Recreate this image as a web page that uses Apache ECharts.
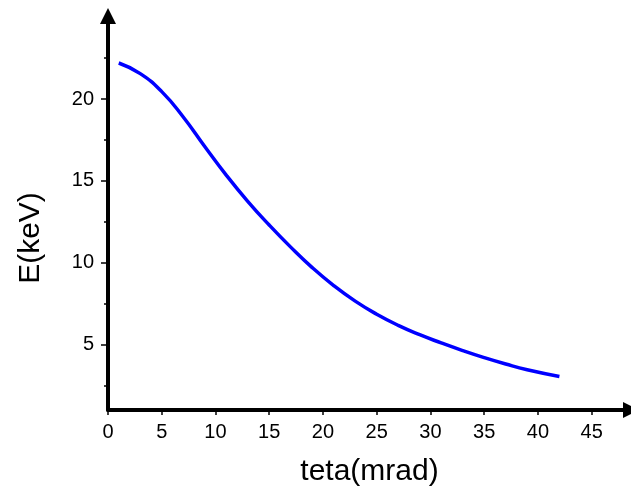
<!DOCTYPE html>
<html>
<head>
<meta charset="utf-8">
<script src="https://cdn.jsdelivr.net/npm/echarts@6/dist/echarts.min.js"></script>
<style>
  html, body { margin: 0; padding: 0; background: #fff; }
  #main { width: 631px; height: 492px; }
</style>
</head>
<body>
<div id="main"></div>
<script>
  // values
  var teta = [1, 3, 5, 7, 9, 11, 13, 15, 17, 19, 21, 23, 25, 27, 29, 31, 33, 35, 37, 39, 42];
  var energy = [22.2, 21.55, 20.45, 18.9, 17.1, 15.35, 13.75, 12.3, 10.95, 9.7, 8.6, 7.65, 6.85, 6.17, 5.6, 5.1, 4.63, 4.2, 3.81, 3.46, 3.05];

  var xTicks = [0, 5, 10, 15, 20, 25, 30, 35, 40, 45];
  var yTicks = [5, 10, 15, 20];
  var yMinorTicks = [2.5, 7.5, 12.5, 17.5, 22.5];

  var points = teta.map(function (t, i) { return [t, energy[i]]; });

  var myChart = echarts.init(document.getElementById('main'));
  var font = 'Liberation Sans, Arial, sans-serif';

  myChart.setOption({
    animation: false,
    grid: { left: 108, right: 0, top: 16, bottom: 78 },
    xAxis: {
      type: 'value',
      min: 0,
      max: 48.66,
      name: 'teta(mrad)',
      nameLocation: 'middle',
      nameGap: 47,
      nameTextStyle: { fontFamily: font, fontSize: 30, color: '#000' },
      splitLine: { show: false },
      axisLine: {
        lineStyle: { color: '#000', width: 4 },
        symbol: ['none', 'triangle'],
        symbolSize: [16, 16]
      },
      axisTick: { customValues: xTicks, length: 5, lineStyle: { color: '#000', width: 1.5 } },
      axisLabel: { customValues: xTicks, fontFamily: font, fontSize: 20, color: '#000', margin: 12 }
    },
    yAxis: [
      {
        type: 'value',
        min: 1,
        max: 25.07,
        name: 'E(keV)',
        nameLocation: 'middle',
        nameGap: 62,
        nameTextStyle: { fontFamily: font, fontSize: 30, color: '#000', padding: [0, 50, 0, 0] },
        splitLine: { show: false },
        axisLine: {
          lineStyle: { color: '#000', width: 4 },
          symbol: ['none', 'triangle'],
          symbolSize: [16, 16]
        },
        axisTick: { customValues: yTicks, length: 7, lineStyle: { color: '#000', width: 1.5 } },
        axisLabel: { customValues: yTicks, fontFamily: font, fontSize: 20, color: '#000', margin: 14 }
      },
      {
        type: 'value',
        position: 'left',
        min: 1,
        max: 25.07,
        splitLine: { show: false },
        axisLine: { show: false },
        axisTick: { customValues: yMinorTicks, length: 4, lineStyle: { color: '#000', width: 1.5 } },
        axisLabel: { show: false }
      }
    ],
    series: [
      {
        type: 'line',
        data: points,
        smooth: true,
        showSymbol: false,
        lineStyle: { color: '#0000ff', width: 3.5 }
      }
    ]
  });
</script>
</body>
</html>
